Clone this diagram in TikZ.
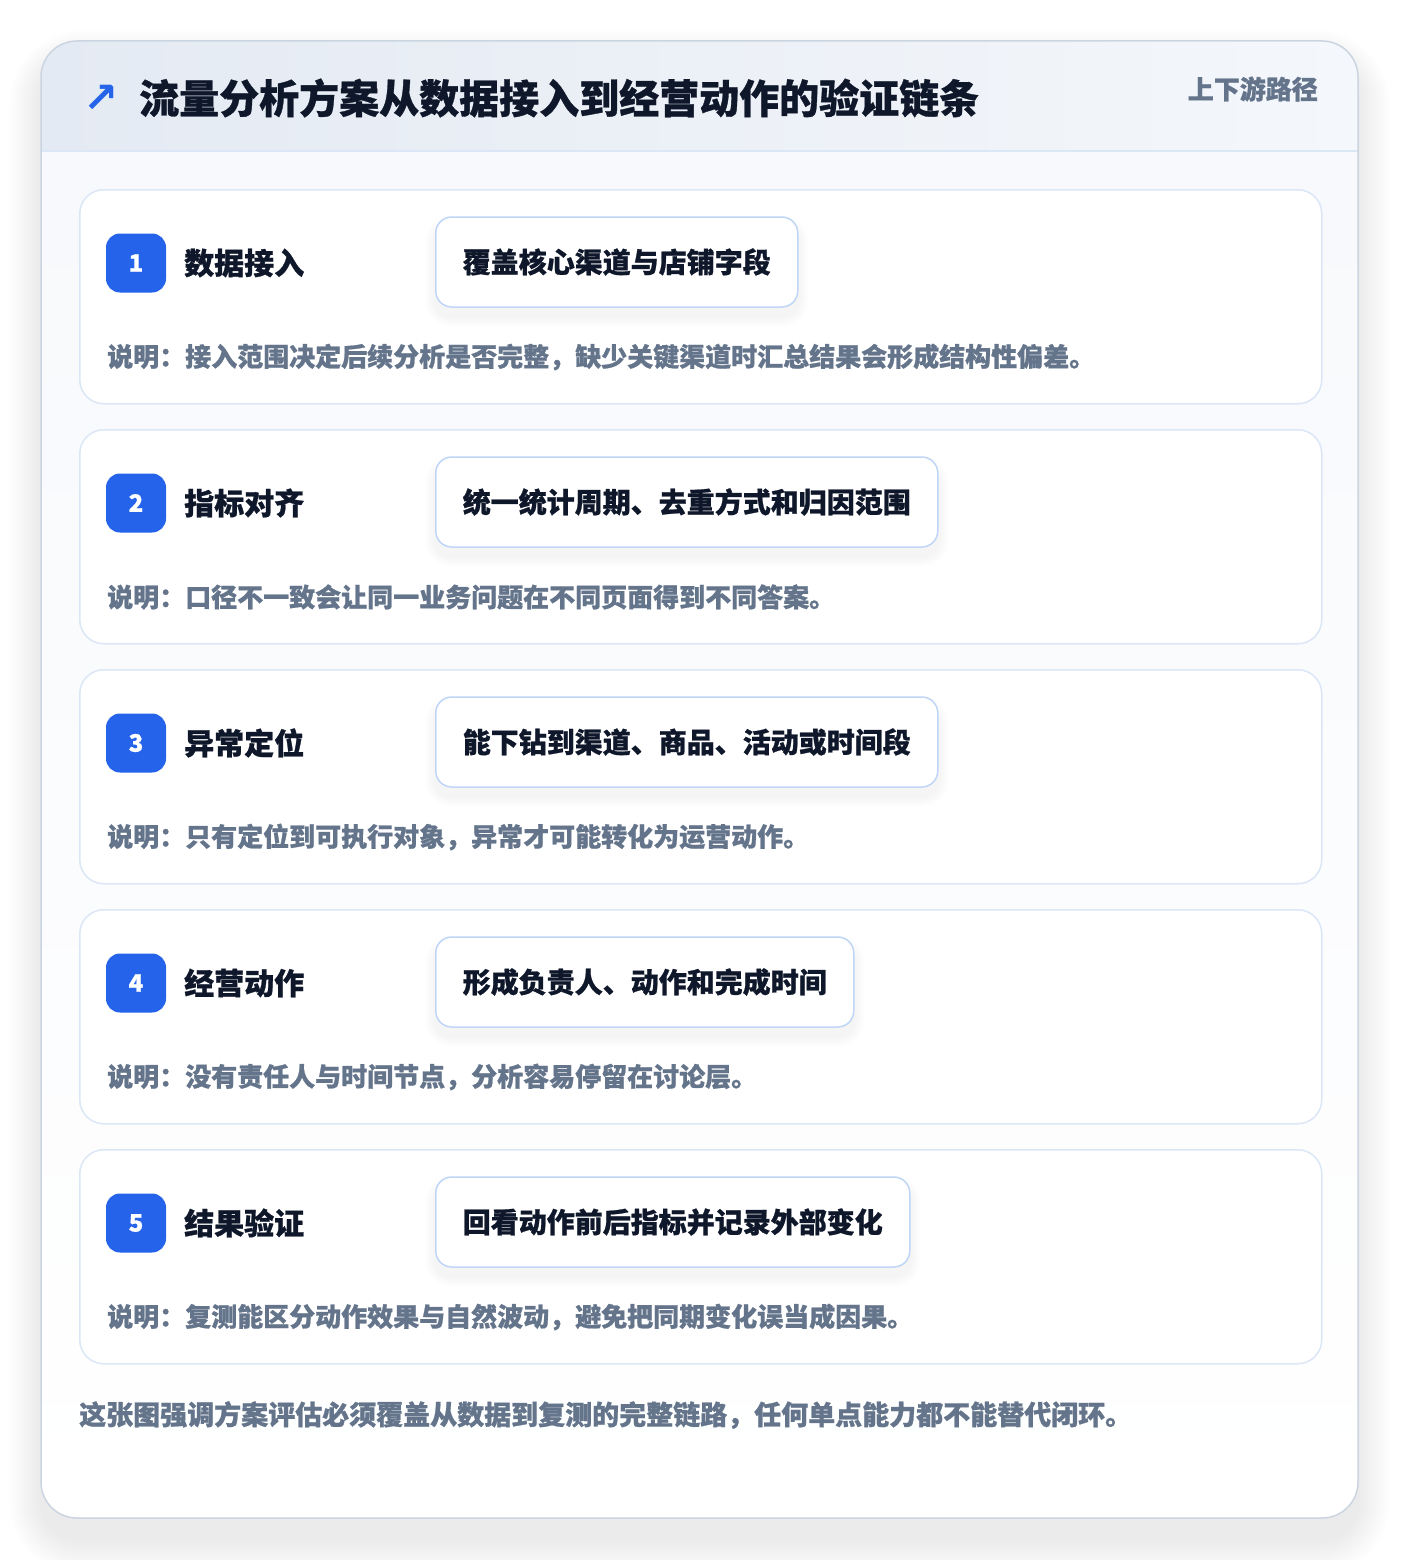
\documentclass[tikz,border=0pt]{standalone}
\usepackage{fontspec}
\setmainfont{Noto Sans CJK SC}[BoldFeatures={FakeBold=0.8}]
\newfontfamily\symfont{DejaVu Sans}
\usetikzlibrary{calc}
\definecolor{bluemain}{HTML}{2563EB}
\definecolor{inkdark}{HTML}{0F172A}
\definecolor{inkgray}{HTML}{64748B}
\definecolor{cardline}{HTML}{DBE7F6}
\definecolor{boxline}{HTML}{BFD6F6}
\definecolor{outerline}{HTML}{CBD5E1}
\definecolor{bodybg}{HTML}{F7F9FC}
\definecolor{hdrL}{HTML}{E4EAF3}
\definecolor{hdrR}{HTML}{F4F7FB}
\pgfdeclarelayer{bglayer}
\pgfdeclarelayer{cardlayer}
\pgfdeclarelayer{shadowlayer}
\pgfsetlayers{bglayer,cardlayer,shadowlayer,main}
\tikzset{
  cardbox/.style={draw=cardline, line width=1.5pt, fill=white, rounded corners=24pt, anchor=north west, minimum width=1242pt, minimum height=214pt, inner sep=0pt},
  badge/.style={fill=bluemain, rounded corners=14pt, minimum width=60pt, minimum height=59pt, inner sep=0pt, text=white, font=\fontsize{24}{26}\selectfont\bfseries},
  steplabel/.style={anchor=west, inner sep=0pt, text=inkdark, font=\fontsize{30}{32}\selectfont\bfseries},
  stepbox/.style={anchor=west, draw=boxline, line width=1.5pt, fill=white, rounded corners=16pt, minimum height=90pt, inner xsep=27pt, inner ysep=0pt, text=inkdark, font=\fontsize{28}{30}\selectfont\bfseries},
  desc/.style={anchor=west, inner sep=0pt, text=inkgray, font=\fontsize{26}{28}\selectfont\bfseries},
}
\begin{document}
\begin{tikzpicture}[x=1pt,y=-1pt]
\useasboundingbox (0,0) rectangle (1400,1560);
\begin{pgfonlayer}{bglayer}
\fill[white] (0,0) rectangle (1400,1560);
% outer shadow
\foreach \s in {2,4,...,40}{
  \fill[black, opacity=0.003, rounded corners={36pt+\s pt}] (41-\s*0.8,61-\s*0.8) rectangle (1358+\s*0.8,1538+\s);
}
% outer card
\begin{scope}
  \clip[rounded corners=36pt] (41,41) rectangle (1358,1518);
  \shade[top color=bodybg, bottom color=white] (41,151) rectangle (1358,1518);
  \shade[left color=hdrL, right color=hdrR] (41,41) rectangle (1358,151);
\end{scope}
\draw[cardline, line width=1.5pt] (41,151) -- (1358,151);
\draw[outerline, line width=1.5pt, rounded corners=36pt] (41,41) rectangle (1358,1518);
\end{pgfonlayer}
% header
\node[inner sep=0pt, text=bluemain, font=\symfont\bfseries\fontsize{42}{44}\selectfont] (icon) at (101,99) {↗};
\node[anchor=west, inner sep=0pt, text=inkdark, font=\fontsize{40}{44}\selectfont\bfseries] (title) at (139,98) {流量分析方案从数据接入到经营动作的验证链条};
\node[anchor=east, inner sep=0pt, text=inkgray, font=\fontsize{26}{28}\selectfont\bfseries] (tag) at (1318,89) {上下游路径};
% steps
\foreach \n/\lab/\bx/\ds in {
  1/数据接入/覆盖核心渠道与店铺字段/说明：接入范围决定后续分析是否完整，缺少关键渠道时汇总结果会形成结构性偏差。,
  2/指标对齐/统一统计周期、去重方式和归因范围/说明：口径不一致会让同一业务问题在不同页面得到不同答案。,
  3/异常定位/能下钻到渠道、商品、活动或时间段/说明：只有定位到可执行对象，异常才可能转化为运营动作。,
  4/经营动作/形成负责人、动作和完成时间/说明：没有责任人与时间节点，分析容易停留在讨论层。,
  5/结果验证/回看动作前后指标并记录外部变化/说明：复测能区分动作效果与自然波动，避免把同期变化误当成因果。}{
  \pgfmathsetmacro\yy{189+(\n-1)*240}
  \begin{pgfonlayer}{cardlayer}
    \node[cardbox] (card\n) at (79,\yy) {};
  \end{pgfonlayer}
  \node[badge] (badge\n) at (136,\yy+74) {\n};
  \node[steplabel] (label\n) at (184,\yy+74) {\lab};
  \node[stepbox] (box\n) at (435,\yy+73) {\bx};
  \begin{pgfonlayer}{shadowlayer}
    \foreach \k in {1,...,10}{
      \fill[black, opacity=0.005, rounded corners={16pt+\k pt}] ($(box\n.north west)+(-\k,-\k+9)$) rectangle ($(box\n.south east)+(\k,\k+9)$);
    }
  \end{pgfonlayer}
  \node[desc] (desc\n) at (107,\yy+168) {\ds};
}
% footer
\node[anchor=west, inner sep=0pt, text=inkgray, font=\fontsize{27}{29}\selectfont\bfseries] (footer) at (79,1415) {这张图强调方案评估必须覆盖从数据到复测的完整链路，任何单点能力都不能替代闭环。};
\end{tikzpicture}
\end{document}
